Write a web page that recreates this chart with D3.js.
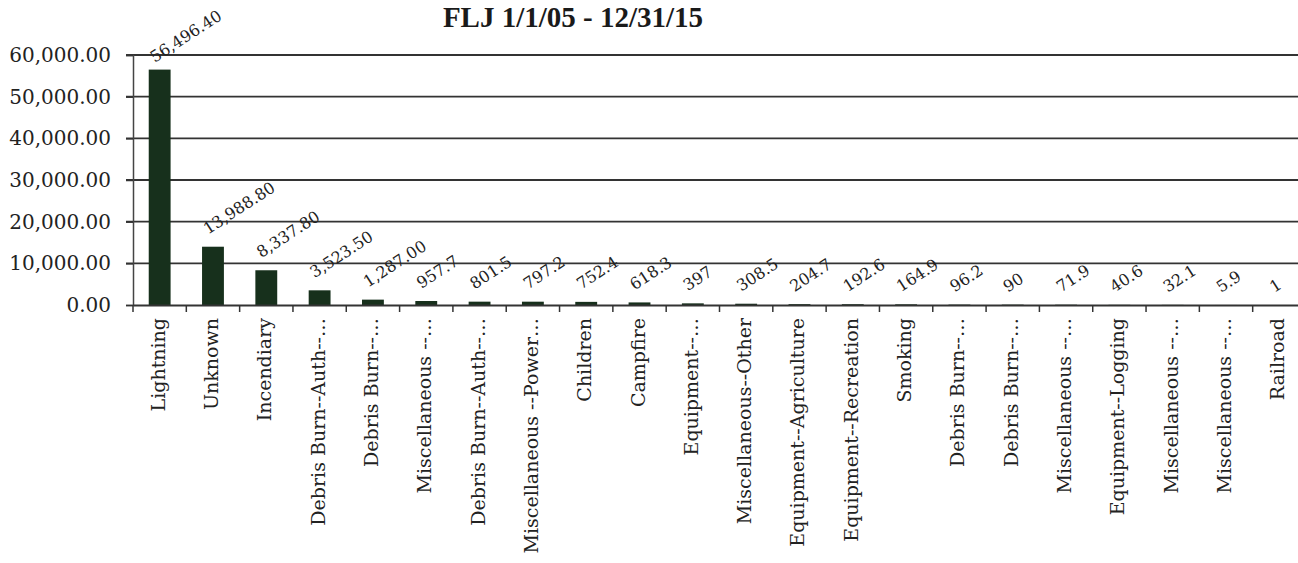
<!DOCTYPE html>
<html>
<head>
<meta charset="utf-8">
<script src="https://cdn.jsdelivr.net/npm/d3@7"></script>
<style>
  html, body { margin: 0; padding: 0; background: #fff; }
  svg { display: block; }
</style>
</head>
<body>
<svg id="chart" width="1298" height="563"></svg>
<script>
const titleText = "FLJ 1/1/05 - 12/31/15";
const categories = [
  "Lightning", "Unknown", "Incendiary", "Debris Burn--Auth--…", "Debris Burn--…",
  "Miscellaneous --…", "Debris Burn--Auth--…", "Miscellaneous --Power…", "Children", "Campfire",
  "Equipment--…", "Miscellaneous--Other", "Equipment--Agriculture", "Equipment--Recreation", "Smoking",
  "Debris Burn--…", "Debris Burn--…", "Miscellaneous --…", "Equipment--Logging", "Miscellaneous --…",
  "Miscellaneous --…", "Railroad"
];
const values = [
  56496.40, 13988.80, 8337.80, 3523.50, 1287.00,
  957.7, 801.5, 797.2, 752.4, 618.3,
  397, 308.5, 204.7, 192.6, 164.9,
  96.2, 90, 71.9, 40.6, 32.1,
  5.9, 1
];
const yTicks = [0, 10000, 20000, 30000, 40000, 50000, 60000];

const svg = d3.select("#chart");
const serif = "'DejaVu Serif', serif";
const mLeft = 133, mRight = 1306, mTop = 55, mBottom = 305;

const x = d3.scaleBand().domain(d3.range(categories.length)).range([mLeft, mRight]).paddingInner(0.59).paddingOuter(0.295);
const xb = d3.scaleBand().domain(d3.range(categories.length)).range([mLeft, mRight]);
const y = d3.scaleLinear().domain([0, 60000]).range([mBottom, mTop]);

// title
svg.append("text")
  .attr("x", 573).attr("y", 27)
  .attr("text-anchor", "middle")
  .attr("font-family", "'Liberation Serif', serif").attr("font-weight", "bold").attr("font-size", 29)
  .attr("fill", "#1a1a1a")
  .text(titleText);

// gridlines
svg.append("g").selectAll("line").data(yTicks.filter(d => d > 0)).join("line")
  .attr("x1", mLeft - 7).attr("x2", 1298)
  .attr("y1", d => y(d)).attr("y2", d => y(d))
  .attr("stroke", "#333").attr("stroke-width", 1.8);

// y axis
const fmt = d3.format(",.2f");
const yAxis = d3.axisLeft(y).tickValues(yTicks).tickSize(7).tickFormat(fmt);
const gy = svg.append("g").attr("transform", `translate(${mLeft},0)`).call(yAxis);
gy.select(".domain").attr("stroke", "#444").attr("stroke-width", 1.5);
gy.selectAll(".tick line").attr("stroke", "#333").attr("stroke-width", 1.5);
gy.selectAll(".tick text").attr("font-family", serif).attr("font-size", 20).attr("fill", "#222").attr("x", -22);

// bars
svg.append("g").selectAll("rect").data(values).join("rect")
  .attr("x", (d, i) => x(i))
  .attr("width", x.bandwidth())
  .attr("y", d => y(d))
  .attr("height", d => mBottom - y(d))
  .attr("fill", "#17301c");

// x axis
const xAxis = d3.axisBottom(xb).tickSize(0).tickFormat("");
const gx = svg.append("g").attr("transform", `translate(0,${mBottom})`).call(xAxis);
gx.select(".domain").attr("stroke", "#333").attr("stroke-width", 2);
gx.selectAll(".tick").remove();
svg.append("g").selectAll("line").data(d3.range(categories.length + 1)).join("line")
  .attr("x1", i => mLeft + i * xb.step()).attr("x2", i => mLeft + i * xb.step())
  .attr("y1", mBottom).attr("y2", mBottom + 7)
  .attr("stroke", "#333").attr("stroke-width", 1.5);

// category labels
svg.append("g").selectAll("text").data(categories).join("text")
  .attr("transform", (d, i) => `translate(${xb(i) + xb.bandwidth() / 2 + 5},318) rotate(-90)`)
  .attr("text-anchor", "end")
  .attr("font-family", serif).attr("font-size", 19).attr("fill", "#222")
  .text(d => d);

// value labels
const lblFmt = v => v >= 1000 ? fmt(v) : String(v);
svg.append("g").selectAll("text").data(values).join("text")
  .attr("transform", (d, i) => `translate(${x(i) + x.bandwidth() / 2 - 5},${Math.max(y(d) - 12, 63)}) rotate(-33)`)
  .attr("font-family", serif).attr("font-size", 16).attr("fill", "#222")
  .text(d => lblFmt(d));
</script>
</body>
</html>
